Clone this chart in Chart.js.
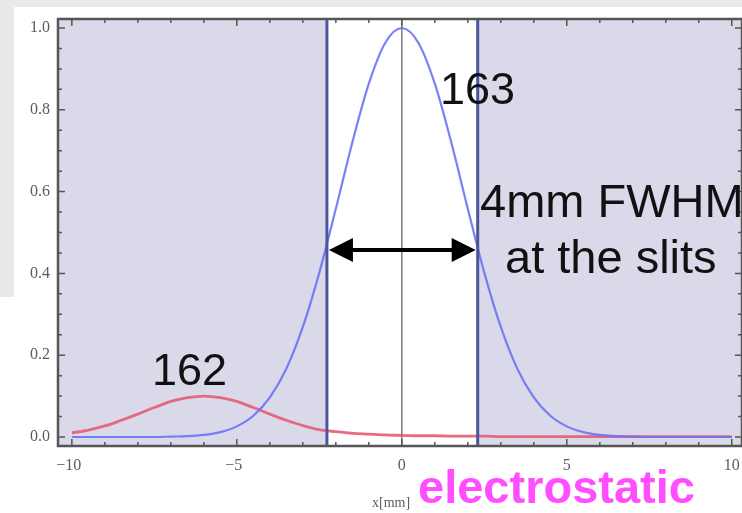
<!DOCTYPE html>
<html>
<head>
<meta charset="utf-8">
<script src="https://cdn.jsdelivr.net/npm/chart.js@4.4.0/dist/chart.umd.min.js"></script>
<style>
html,body{margin:0;padding:0;background:#fff;}
#wrap{position:relative;width:742px;height:513px;}
</style>
</head>
<body>
<div id="wrap"><canvas id="myChart" width="742" height="513"></canvas></div>
<script>
// values
const xs = [-10,-9.5,-9,-8.5,-8,-7.5,-7,-6.5,-6,-5.5,-5,-4.5,-4,-3.5,-3,-2.5,-2,-1.5,-1,-0.5,
	0,0.5,1,1.5,2,2.5,3,3.5,4,4.5,5,5.5,6,6.5,7,7.5,8,8.5,9,9.5,10];
const beam163 = [0,0,0,0,0,0,0.001,0.002,0.005,0.012,0.026,0.052,0.097,0.167,0.269,0.402,0.558,0.72,0.864,0.964,
	1,0.964,0.864,0.72,0.558,0.402,0.269,0.167,0.097,0.052,0.026,0.012,0.005,0.002,0.001,0,0,0,0,0,0];
const beam162 = [0.01,0.017,0.027,0.041,0.056,0.072,0.087,0.096,0.1,0.096,0.087,0.072,0.056,0.041,0.028,0.018,0.013,0.009,0.007,0.005,
	0.004,0.003,0.003,0.002,0.002,0.002,0.001,0.001,0.001,0.001,0.001,0.001,0.001,0.001,0.001,0.001,0.001,0.001,0.001,0.001,0.001];
const xTicks = [-10,-5,0,5,10];
const xTickLabels = ['\u221210','\u22125','0','5','10'];
const yTicks = [0,0.2,0.4,0.6,0.8,1.0];
const yTickLabels = ['0.0','0.2','0.4','0.6','0.8','1.0'];
const slits = [-2.27,2.3];
const fwhmLevel = 0.457;

const pts = (ys) => xs.map((x,i) => ({x:x, y:ys[i]}));

//drawing of frame, shading, notes
const deco = {
	id:'deco',
	beforeDraw(chart){
		const c = chart.ctx;
		c.save();
		c.fillStyle = '#e9e9e9';
		c.fillRect(0,0,742,7);
		c.fillRect(0,0,14,297);
		c.restore();
	},
	beforeDatasetsDraw(chart){
		const c = chart.ctx, a = chart.chartArea, x = chart.scales.x;
		const xl = x.getPixelForValue(slits[0]), xr = x.getPixelForValue(slits[1]);
		c.save();
		c.fillStyle = '#dad9e9';
		c.fillRect(a.left,a.top,xl-a.left,a.bottom-a.top);
		c.fillRect(xr,a.top,a.right-xr,a.bottom-a.top);
		c.strokeStyle = '#7a7a7a';
		c.lineWidth = 1.5;
		const x0 = x.getPixelForValue(0);
		c.beginPath(); c.moveTo(x0,a.top); c.lineTo(x0,a.bottom); c.stroke();
		c.restore();
	},
	afterDatasetsDraw(chart){
		const c = chart.ctx, a = chart.chartArea, x = chart.scales.x, y = chart.scales.y;
		c.save();
		// slit lines
		c.strokeStyle = '#4d549e';
		c.lineWidth = 3;
		slits.forEach(s => {
			const px = x.getPixelForValue(s);
			c.beginPath(); c.moveTo(px,a.top); c.lineTo(px,a.bottom); c.stroke();
		});
		// frame
		c.strokeStyle = '#555';
		c.lineWidth = 2.5;
		c.strokeRect(a.left,a.top,a.right-a.left,a.bottom-a.top);
		c.lineWidth = 1.5;
		c.beginPath();
		for (let v = -10; v <= 10; v++) {
			const px = x.getPixelForValue(v);
			const len = (v % 5 === 0) ? 7 : 4;
			c.moveTo(px,a.bottom); c.lineTo(px,a.bottom-len);
			c.moveTo(px,a.top); c.lineTo(px,a.top+len);
		}
		for (let k = 0; k <= 20; k++) {
			const py = y.getPixelForValue(k*0.05);
			const len = (k % 4 === 0) ? 7 : 4;
			c.moveTo(a.left,py); c.lineTo(a.left+len,py);
			c.moveTo(a.right,py); c.lineTo(a.right-len,py);
		}
		c.stroke();
		// tick labels
		c.fillStyle = '#5c5a66';
		c.font = '16px "Liberation Serif", serif';
		c.textAlign = 'right';
		c.textBaseline = 'middle';
		yTicks.forEach((v,i) => c.fillText(yTickLabels[i], 50, y.getPixelForValue(v)));
		c.textAlign = 'center';
		xTicks.forEach((v,i) => c.fillText(xTickLabels[i], x.getPixelForValue(v)-(v<0?3:0), 466));
		c.font = '14px "Liberation Serif", serif';
		c.textAlign = 'left';
		c.textBaseline = 'alphabetic';
		c.fillText('x[mm]', 372, 507);
		// FWHM arrow
		const ay = y.getPixelForValue(fwhmLevel);
		const ax1 = x.getPixelForValue(slits[0])+2, ax2 = x.getPixelForValue(slits[1])-2;
		c.strokeStyle = '#000';
		c.fillStyle = '#000';
		c.lineWidth = 4;
		c.beginPath(); c.moveTo(ax1+20,ay); c.lineTo(ax2-20,ay); c.stroke();
		c.beginPath(); c.moveTo(ax1,ay); c.lineTo(ax1+24,ay-12); c.lineTo(ax1+24,ay+12); c.closePath(); c.fill();
		c.beginPath(); c.moveTo(ax2,ay); c.lineTo(ax2-24,ay-12); c.lineTo(ax2-24,ay+12); c.closePath(); c.fill();
		// notes
		c.fillStyle = '#111';
		c.font = '45px "Liberation Sans", Arial, sans-serif';
		c.fillText('163', 440, 104);
		c.fillText('162', 152, 385);
		c.font = '47px "Liberation Sans", Arial, sans-serif';
		c.fillText('4mm FWHM', 480, 217);
		c.fillText('at the slits', 505, 273);
		c.fillStyle = '#ff4dff';
		c.font = 'bold 47px "Liberation Sans", Arial, sans-serif';
		c.fillText('electrostatic', 418, 503);
		c.restore();
	}
};

const cht = document.getElementById('myChart').getContext('2d');

const data = {
	datasets: [
		{
			label:'163',
			data: pts(beam163),
			borderColor:'rgba(105,115,245,0.9)',
			borderWidth:2.2,
			pointRadius:0,
			cubicInterpolationMode:'monotone'
		},
		{
			label:'162',
			data: pts(beam162),
			borderColor:'rgba(228,92,118,0.9)',
			borderWidth:2.8,
			pointRadius:0,
			cubicInterpolationMode:'monotone'
		}
	]
};

const config = {
	type:'line',
	data:data,
	options: {
		responsive:false,
		animation:false,
		devicePixelRatio:1,
		layout: { padding: { left:58, top:19, right:0, bottom:67 } },
		plugins: { legend: { display:false }, tooltip: { enabled:false } },
		scales: {
			x: { type:'linear', min:-10.42, max:10.31, display:false },
			y: { min:-0.022, max:1.022, display:false }
		}
	},
	plugins:[deco]
};

const myChart = new Chart(cht, config);
</script>
</body>
</html>
